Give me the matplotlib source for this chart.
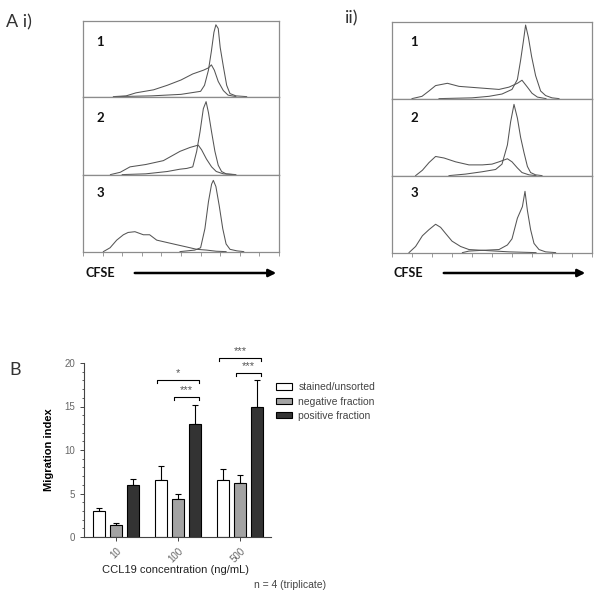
import numpy as np
import matplotlib
matplotlib.use('Agg')
import matplotlib.pyplot as plt
from matplotlib.patches import FancyArrowPatch

W, H = 601, 597

# ---- A: CFSE histograms as (x frac, height frac) ----
# i) panel 1
ai1_peak_x = [0.17, 0.35, 0.50, 0.55, 0.60, 0.62, 0.64, 0.655, 0.668, 0.678, 0.69, 0.70, 0.716, 0.733, 0.75, 0.78, 0.835]
ai1_peak_y = [0.0, 0.01, 0.03, 0.05, 0.07, 0.15, 0.35, 0.60, 0.85, 0.95, 0.90, 0.65, 0.40, 0.15, 0.04, 0.01, 0.0]
ai1_broad_x = [0.155, 0.22, 0.27, 0.36, 0.43, 0.50, 0.56, 0.615, 0.64, 0.655, 0.67, 0.69, 0.716, 0.74, 0.78]
ai1_broad_y = [0.0, 0.01, 0.05, 0.09, 0.15, 0.22, 0.30, 0.35, 0.38, 0.42, 0.35, 0.20, 0.08, 0.02, 0.0]
# i) panel 2
ai2_peak_x = [0.20, 0.32, 0.43, 0.495, 0.53, 0.56, 0.58, 0.597, 0.614, 0.628, 0.64, 0.656, 0.673, 0.69, 0.707, 0.73, 0.78]
ai2_peak_y = [0.0, 0.01, 0.04, 0.07, 0.08, 0.10, 0.30, 0.55, 0.85, 0.94, 0.80, 0.55, 0.30, 0.12, 0.04, 0.01, 0.0]
ai2_broad_x = [0.14, 0.19, 0.24, 0.32, 0.41, 0.495, 0.546, 0.588, 0.605, 0.63, 0.656, 0.68, 0.716, 0.77]
ai2_broad_y = [0.0, 0.03, 0.10, 0.13, 0.18, 0.30, 0.35, 0.38, 0.32, 0.20, 0.10, 0.04, 0.01, 0.0]
# i) panel 3
ai3_peak_x = [0.495, 0.57, 0.60, 0.622, 0.64, 0.656, 0.665, 0.678, 0.695, 0.713, 0.73, 0.75, 0.785, 0.82]
ai3_peak_y = [0.0, 0.02, 0.05, 0.30, 0.65, 0.88, 0.93, 0.85, 0.60, 0.30, 0.10, 0.03, 0.01, 0.0]
ai3_broad_x = [0.104, 0.138, 0.172, 0.206, 0.23, 0.265, 0.308, 0.34, 0.376, 0.427, 0.478, 0.53, 0.58, 0.63, 0.68, 0.73]
ai3_broad_y = [0.0, 0.05, 0.15, 0.22, 0.25, 0.26, 0.22, 0.22, 0.15, 0.12, 0.09, 0.06, 0.03, 0.02, 0.005, 0.0]
# ii) panel 1
aii1_peak_x = [0.235, 0.40, 0.485, 0.55, 0.60, 0.627, 0.643, 0.657, 0.668, 0.682, 0.698, 0.718, 0.743, 0.768, 0.80, 0.835]
aii1_peak_y = [0.0, 0.01, 0.03, 0.06, 0.12, 0.25, 0.50, 0.75, 0.96, 0.80, 0.55, 0.30, 0.10, 0.04, 0.01, 0.0]
aii1_broad_x = [0.10, 0.15, 0.185, 0.218, 0.277, 0.335, 0.385, 0.435, 0.485, 0.535, 0.585, 0.627, 0.65, 0.677, 0.70, 0.727, 0.77]
aii1_broad_y = [0.0, 0.03, 0.10, 0.17, 0.20, 0.16, 0.15, 0.14, 0.13, 0.12, 0.15, 0.20, 0.24, 0.15, 0.07, 0.02, 0.0]
# ii) panel 2
aii2_peak_x = [0.285, 0.368, 0.45, 0.518, 0.55, 0.577, 0.593, 0.61, 0.627, 0.643, 0.66, 0.677, 0.693, 0.718, 0.75]
aii2_peak_y = [0.0, 0.02, 0.05, 0.08, 0.15, 0.40, 0.70, 0.93, 0.75, 0.50, 0.30, 0.12, 0.04, 0.01, 0.0]
aii2_broad_x = [0.118, 0.152, 0.185, 0.218, 0.26, 0.318, 0.385, 0.452, 0.50, 0.535, 0.577, 0.60, 0.627, 0.65, 0.685, 0.72]
aii2_broad_y = [0.0, 0.07, 0.17, 0.25, 0.23, 0.18, 0.14, 0.14, 0.15, 0.18, 0.22, 0.18, 0.10, 0.04, 0.01, 0.0]
# ii) panel 3
aii3_peak_x = [0.352, 0.385, 0.452, 0.535, 0.577, 0.60, 0.627, 0.652, 0.665, 0.677, 0.693, 0.71, 0.735, 0.768, 0.818]
aii3_peak_y = [0.0, 0.02, 0.03, 0.04, 0.10, 0.18, 0.45, 0.60, 0.80, 0.55, 0.30, 0.12, 0.04, 0.01, 0.0]
aii3_broad_x = [0.085, 0.118, 0.152, 0.185, 0.218, 0.243, 0.268, 0.30, 0.343, 0.385, 0.452, 0.518, 0.585, 0.652, 0.72]
aii3_broad_y = [0.0, 0.08, 0.22, 0.30, 0.37, 0.33, 0.25, 0.15, 0.08, 0.04, 0.03, 0.02, 0.01, 0.005, 0.0]

hist_ticks = [0.0, 0.1, 0.2, 0.3, 0.4, 0.5, 0.6, 0.7, 0.8, 0.9, 1.0]

# ---- B: migration index ----
groups = ['10', '100', '500']
series_names = ['stained/unsorted', 'negative fraction', 'positive fraction']
unsorted_mean = [3.0, 6.6, 6.6]
unsorted_err = [0.3, 1.6, 1.2]
negative_mean = [1.4, 4.4, 6.2]
negative_err = [0.2, 0.6, 0.9]
positive_mean = [6.0, 13.0, 14.9]
positive_err = [0.7, 2.2, 3.2]

sig_group = [1, 1, 2, 2]
sig_from = [0, 1, 0, 1]          # series index where the bracket starts (ends at positive)
sig_height = [18.1, 16.1, 20.6, 18.9]
sig_label = ['*', '***', '***', '***']


def px_box(x0, y0, x1, y1):
    return [x0 / W, 1 - y1 / H, (x1 - x0) / W, (y1 - y0) / H]


def px(x, y):
    return x / W, 1 - y / H


fig = plt.figure(figsize=(W / 100, H / 100), dpi=100)

LINE = '#555555'
FRAME = '#8c8c8c'

panels_i = [(ai1_peak_x, ai1_peak_y, ai1_broad_x, ai1_broad_y),
            (ai2_peak_x, ai2_peak_y, ai2_broad_x, ai2_broad_y),
            (ai3_peak_x, ai3_peak_y, ai3_broad_x, ai3_broad_y)]
panels_ii = [(aii1_peak_x, aii1_peak_y, aii1_broad_x, aii1_broad_y),
             (aii2_peak_x, aii2_peak_y, aii2_broad_x, aii2_broad_y),
             (aii3_peak_x, aii3_peak_y, aii3_broad_x, aii3_broad_y)]

for panels, x0, x1, ys, numx in [(panels_i, 83, 279, [21, 97, 175, 252], 100),
                                 (panels_ii, 392, 592, [22, 99, 176, 253], 414)]:
    for k, (pxs, pys, bxs, bys) in enumerate(panels):
        ax = fig.add_axes(px_box(x0, ys[k], x1, ys[k + 1]))
        ax.plot(bxs, bys, color=LINE, lw=0.75)
        ax.plot(pxs, pys, color=LINE, lw=0.75)
        ax.set_xlim(0, 1)
        ax.set_ylim(-0.005, 1)
        for s in ax.spines.values():
            s.set_color(FRAME)
            s.set_linewidth(0.9)
        ax.set_yticks([])
        if k == 2:
            ax.set_xticks(hist_ticks)
            ax.set_xticklabels([])
            ax.tick_params(axis='x', length=3, width=0.6, color=FRAME)
        else:
            ax.set_xticks([])
        fig.text(*px(numx, [42, 118, 193][k]), str(k + 1), fontsize=9.5, fontweight='bold',
                 family='Lato', ha='center', va='center', color='#111111')

fig.text(*px(6, 22), 'A i)', fontsize=13, family='Lato', va='center', color='#333333')
fig.text(*px(345, 18), 'ii)', fontsize=13, family='Lato', va='center', color='#333333')
for cx, a0, a1 in [(86, 132, 279), (393, 441, 588)]:
    fig.text(*px(cx, 273), 'CFSE', fontsize=9, fontweight='bold', family='Lato', va='center', color='#111111')
    fig.add_artist(FancyArrowPatch(px(a0, 273), px(a1, 273), transform=fig.transFigure,
                                   arrowstyle='-|>', mutation_scale=11, lw=1.8, color='black'))

# ---- panel B ----
plt.rcParams['font.family'] = 'Liberation Sans'
axb = fig.add_axes(px_box(84, 363, 271, 537))
xg = np.arange(len(groups))
width = 0.19
offs = [-0.28, 0.0, 0.28]
means = [unsorted_mean, negative_mean, positive_mean]
errs = [unsorted_err, negative_err, positive_err]
colors = ['white', '#a3a3a3', '#333333']
handles = []
for s in range(3):
    b = axb.bar(xg + offs[s], means[s], width, color=colors[s], edgecolor='black', lw=0.8,
                label=series_names[s], zorder=2)
    handles.append(b)
    axb.errorbar(xg + offs[s], means[s], yerr=[np.zeros(3), errs[s]], fmt='none',
                 ecolor='black', elinewidth=0.8, capsize=2.5, capthick=0.8, zorder=1)

for g, f, h, lab in zip(sig_group, sig_from, sig_height, sig_label):
    xa = g + offs[f] - width / 2 + 0.03
    xb = g + offs[2] + width / 2 - 0.03
    axb.plot([xa, xa, xb, xb], [h - 0.35, h, h, h - 0.35], color='black', lw=0.8, clip_on=False)
    axb.text((xa + xb) / 2, h + 0.2, lab, ha='center', va='bottom', fontsize=8, color='#555555')

axb.set_xlim(-0.516, 2.5)
axb.set_ylim(0, 20)
axb.set_yticks([0, 5, 10, 15, 20])
axb.set_yticks(np.arange(0, 21, 1), minor=True)
axb.set_xticks(xg)
axb.set_xticklabels(groups, rotation=45, ha='right', rotation_mode='anchor')
axb.tick_params(axis='both', which='major', labelsize=7, labelcolor='#666666', length=3, width=0.7, color='#444444')
axb.tick_params(axis='y', which='minor', length=1.8, width=0.6, color='#444444')
axb.tick_params(axis='x', which='minor', length=0)
for side in ['top', 'right']:
    axb.spines[side].set_visible(False)
for side in ['left', 'bottom']:
    axb.spines[side].set_color('#444444')
    axb.spines[side].set_linewidth(0.8)
axb.set_ylabel('Migration index', fontsize=8, fontweight='bold')
axb.yaxis.set_label_coords((54 - 84) / 187, 0.5)
fig.text(*px(176, 570), 'CCL19 concentration (ng/mL)', fontsize=8, ha='center', va='center', color='#222222')
fig.text(*px(254, 585), 'n = 4 (triplicate)', fontsize=7.5, ha='left', va='center', color='#444444')
fig.text(*px(9, 370), 'B', fontsize=13, family='Lato', va='center', color='#333333')

axb.legend(handles=handles, loc='upper left', bbox_to_anchor=px(267, 373), bbox_transform=fig.transFigure,
           frameon=False, fontsize=7.5, handlelength=1.5, handleheight=0.6, labelspacing=0.4,
           handletextpad=0.6, labelcolor='#444444')

fig.savefig('out.png', dpi=100)
